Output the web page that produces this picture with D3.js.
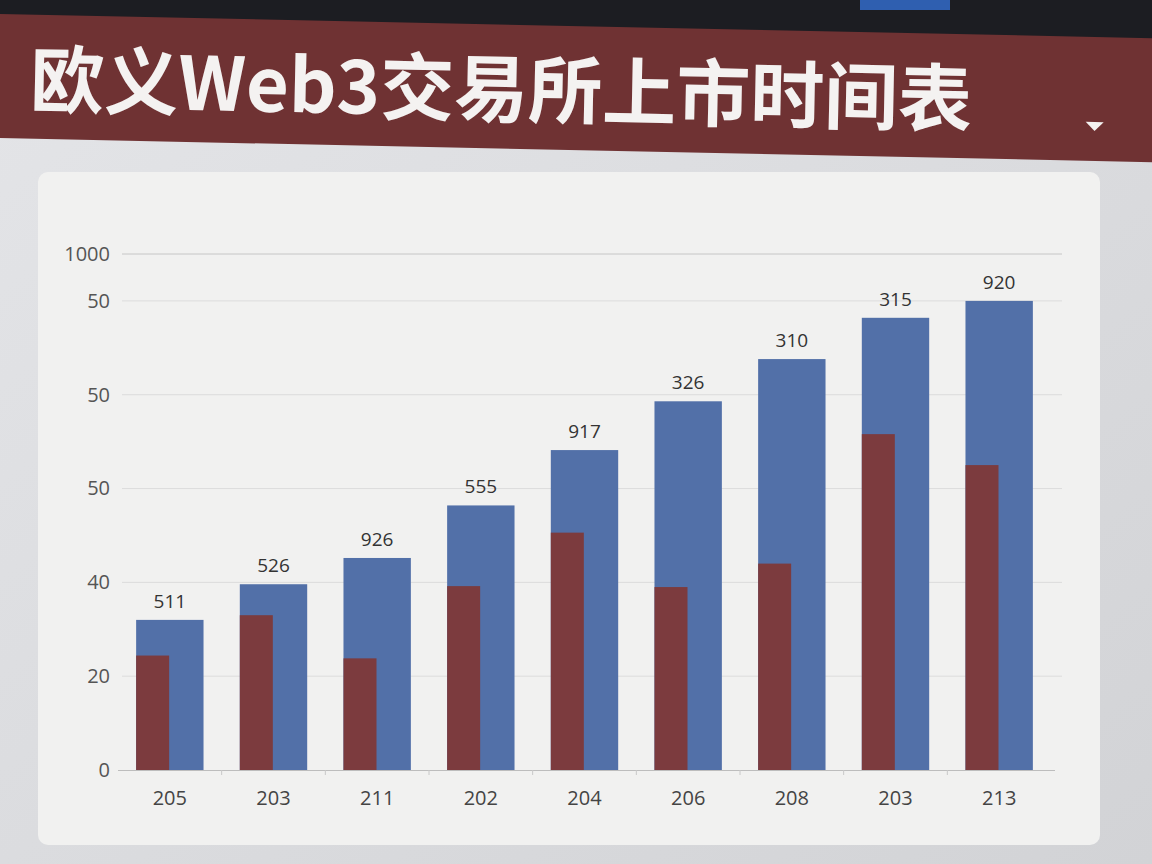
<!DOCTYPE html>
<html>
<head>
<meta charset="utf-8">
<script src="https://cdn.jsdelivr.net/npm/d3@7"></script>
<style>
  html, body { margin: 0; padding: 0; background: #dcdde0; }
  svg { display: block; }
</style>
</head>
<body>
<div id="chart"></div>
<script>
var categories = ["205", "203", "211", "202", "204", "206", "208", "203", "213"];
var blueValues = [1.60, 1.98, 2.26, 2.82, 3.41, 3.93, 4.38, 4.82, 5.0];
var redValues = [1.22, 1.65, 1.19, 1.96, 2.53, 1.95, 2.2, 3.58, 3.25];
var barLabels = ["511", "526", "926", "555", "917", "326", "310", "315", "920"];
var tickSteps = [0, 1, 2, 3, 4, 5, 5.5];
var tickLabels = ["0", "20", "40", "50", "50", "50", "1000"];
var title = "欧义Web3交易所上市时间表";

var W = 1152, H = 864;
var svg = d3.select("#chart").append("svg")
    .attr("width", W)
    .attr("height", H);

// background
var bg = svg.append("defs").append("linearGradient")
    .attr("id", "bg").attr("x1", 0).attr("y1", 0).attr("x2", 1).attr("y2", 1);
bg.append("stop").attr("offset", "0%").attr("stop-color", "#e4e5e8");
bg.append("stop").attr("offset", "100%").attr("stop-color", "#d2d3d6");
svg.append("rect").attr("width", W).attr("height", H).attr("fill", "url(#bg)");

// dark strip on top
svg.append("rect").attr("width", W).attr("height", 50).attr("fill", "#1c1d22");
svg.append("rect").attr("x", 860).attr("y", 0).attr("width", 90).attr("height", 10).attr("fill", "#2f5fb0");

// title band, slightly tilted like the photo
var band = svg.append("g").attr("transform", "rotate(1.2 0 0)");
band.append("rect")
    .attr("x", -20).attr("y", 14)
    .attr("width", W + 60).attr("height", 124)
    .attr("fill", "#6f3233");
band.append("text")
    .attr("x", 32).attr("y", 106)
    .attr("fill", "#f4f2f1")
    .style("font-family", "'Noto Sans CJK SC', sans-serif")
    .style("font-weight", 700)
    .style("font-size", "74px")
    .text(title);
band.append("path")
    .attr("d", "M1088,99 L1106,99 L1097,108 Z")
    .attr("fill", "#f4f2f1");

// card
svg.append("rect")
    .attr("x", 38).attr("y", 172)
    .attr("width", 1062).attr("height", 673)
    .attr("rx", 10)
    .attr("fill", "#f1f1f0");

var plot = {left: 118, right: 1062, top: 254, bottom: 770};

var x = d3.scaleBand()
    .domain(d3.range(categories.length))
    .range([plot.left, 1051])
    .paddingInner(0.35)
    .paddingOuter(0.175);

var y = d3.scaleLinear()
    .domain([0, 5.5])
    .range([plot.bottom, plot.top]);

// gridlines
svg.append("g")
    .selectAll("line")
    .data(tickSteps.filter(function(d) { return d > 0; }))
    .enter().append("line")
    .attr("x1", plot.left + 4).attr("x2", plot.right)
    .attr("y1", function(d) { return y(d); })
    .attr("y2", function(d) { return y(d); })
    .attr("stroke", function(d) { return d == 5.5 ? "#c6c6c6" : "#dcdcdc"; })
    .attr("stroke-width", 1);

// y axis labels
var yAxis = d3.axisLeft(y)
    .tickValues(tickSteps)
    .tickSize(0)
    .tickPadding(8)
    .tickFormat(function(d, i) { return tickLabels[i]; });
var gy = svg.append("g")
    .attr("transform", "translate(" + plot.left + ",0)")
    .call(yAxis);
gy.select(".domain").remove();
gy.selectAll("text")
    .attr("fill", "#555")
    .style("font-family", "'Open Sans', sans-serif")
    .style("font-size", "20px");

// blue bars
svg.append("g")
    .selectAll("rect")
    .data(blueValues)
    .enter().append("rect")
    .attr("x", function(d, i) { return x(i); })
    .attr("y", function(d) { return y(d); })
    .attr("width", x.bandwidth())
    .attr("height", function(d) { return y(0) - y(d); })
    .attr("fill", "#5270a8");

// red bars
svg.append("g")
    .selectAll("rect")
    .data(redValues)
    .enter().append("rect")
    .attr("x", function(d, i) { return x(i); })
    .attr("y", function(d) { return y(d); })
    .attr("width", x.bandwidth() * 0.49)
    .attr("height", function(d) { return y(0) - y(d); })
    .attr("fill", "#7c3b3e");

// value labels
svg.append("g")
    .selectAll("text")
    .data(blueValues)
    .enter().append("text")
    .attr("x", function(d, i) { return x(i) + x.bandwidth() / 2; })
    .attr("y", function(d) { return y(d) - 12; })
    .attr("text-anchor", "middle")
    .attr("fill", "#333")
    .style("font-family", "'Open Sans', sans-serif")
    .style("font-size", "19px")
    .text(function(d, i) { return barLabels[i]; });

// x axis
var xAxis = d3.axisBottom(x)
    .tickSize(0)
    .tickPadding(21)
    .tickFormat(function(d) { return categories[d]; });
var gx = svg.append("g")
    .attr("transform", "translate(0," + plot.bottom + ")")
    .call(xAxis);
gx.select(".domain").remove();
gx.append("line")
    .attr("x1", plot.left).attr("x2", 1055)
    .attr("y1", 0.5).attr("y2", 0.5)
    .attr("stroke", "#bdbdbd");
gx.selectAll(".sep")
    .data(d3.range(1, categories.length))
    .enter().append("line")
    .attr("class", "sep")
    .attr("x1", function(d) { return x(d) - x.step() * x.paddingInner() / 2; })
    .attr("x2", function(d) { return x(d) - x.step() * x.paddingInner() / 2; })
    .attr("y1", 0).attr("y2", 5)
    .attr("stroke", "#c8c8c8");
gx.selectAll(".tick text")
    .attr("fill", "#444")
    .style("font-family", "'Open Sans', sans-serif")
    .style("font-size", "20px");
</script>
</body>
</html>
